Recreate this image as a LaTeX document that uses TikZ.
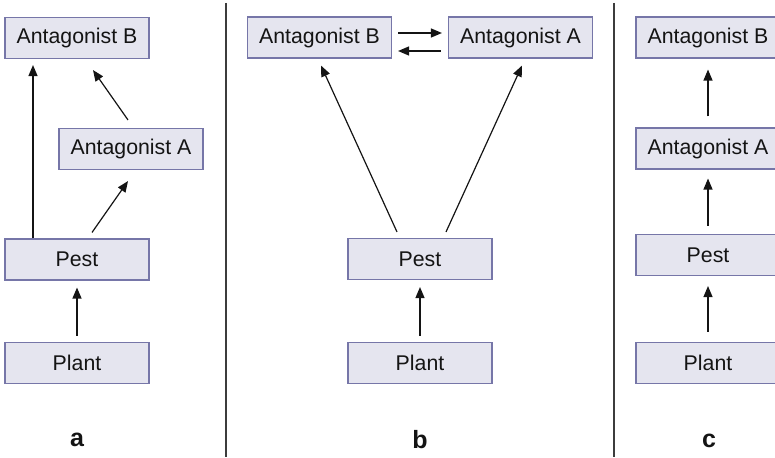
\documentclass[tikz,border=0pt]{standalone}
\usepackage{fontspec}
\setmainfont{Liberation Sans}
\usetikzlibrary{arrows.meta}
\definecolor{boxfill}{RGB}{229,229,239}
\definecolor{boxline}{RGB}{118,118,168}
\definecolor{ink}{RGB}{20,20,20}
\definecolor{rule}{RGB}{60,60,60}
\tikzset{
  species/.style={draw=boxline, fill=boxfill, line width=1.1pt,
    minimum width=144pt, minimum height=41pt, inner sep=0pt,
    text=ink, font=\fontsize{21.3}{25}\selectfont},
  arr/.style={-{Triangle[length=11pt,width=9pt]}, line width=1.2pt, draw=ink},
  panel/.style={font=\bfseries\fontsize{25}{28}\selectfont, text=ink},
  divider/.style={draw=rule, line width=1.3pt}
}
\begin{document}
\begin{tikzpicture}[x=1pt,y=-1pt]
\useasboundingbox (0,0) rectangle (775,457);
\clip (0,0) rectangle (775,457);

% dividers between the three panels
\coordinate (d1top) at (226,3);
\coordinate (d1bot) at (226,457);
\coordinate (d2top) at (614,3);
\coordinate (d2bot) at (614,457);
\draw[divider] (d1top) -- (d1bot);
\draw[divider] (d2top) -- (d2bot);

% panel a
\node[species] (aB) at (77,38) {Antagonist B};
\node[species] (aA) at (131,149) {Antagonist A};
\node[species] (aPest) at (77,259.5) {Pest};
\node[species] (aPlant) at (77,363) {Plant};
\node[panel] (la) at (77,440) {a};
\draw[arr, shorten >=6pt] ([xshift=-44pt]aPest.north) -- ([xshift=-44pt]aB.south);
\draw[arr] ([xshift=15pt,yshift=6pt]aPest.north) -- ([xshift=-3pt,yshift=-11pt]aA.south);
\draw[arr] ([xshift=-3pt,yshift=8pt]aA.north) -- ([xshift=16pt,yshift=-11pt]aB.south);
\draw[arr] ([yshift=6pt]aPlant.north) -- ([yshift=-7pt]aPest.south);

% panel b
\node[species] (bB) at (319.5,37.5) {Antagonist B};
\node[species] (bA) at (520.5,37.5) {Antagonist A};
\node[species] (bPest) at (420,259) {Pest};
\node[species] (bPlant) at (420,363) {Plant};
\node[panel] (lb) at (420,440) {b};
\draw[arr] ([shift={(6pt,4.5pt)}]bB.east) -- ([shift={(-6pt,4.5pt)}]bA.west);
\draw[arr] ([shift={(-7pt,-13.5pt)}]bA.west) -- ([shift={(6pt,-13.5pt)}]bB.east);
\draw[arr] ([shift={(-23pt,6pt)}]bPest.north) -- ([shift={(1.5pt,-7pt)}]bB.south);
\draw[arr] ([shift={(26pt,6pt)}]bPest.north) -- ([shift={(1.5pt,-7pt)}]bA.south);
\draw[arr] ([yshift=6pt]bPlant.north) -- ([yshift=-7pt]bPest.south);

% panel c
\node[species] (cB) at (708,37.5) {Antagonist B};
\node[species] (cA) at (708,148.5) {Antagonist A};
\node[species] (cPest) at (708,255) {Pest};
\node[species] (cPlant) at (708,363) {Plant};
\node[panel] (lc) at (709,441) {c};
\draw[arr] ([yshift=11pt]cA.north) -- ([yshift=-11pt]cB.south);
\draw[arr] ([yshift=8pt]cPest.north) -- ([yshift=-9pt]cA.south);
\draw[arr] ([yshift=10pt]cPlant.north) -- ([yshift=-10pt]cPest.south);
\end{tikzpicture}
\end{document}
